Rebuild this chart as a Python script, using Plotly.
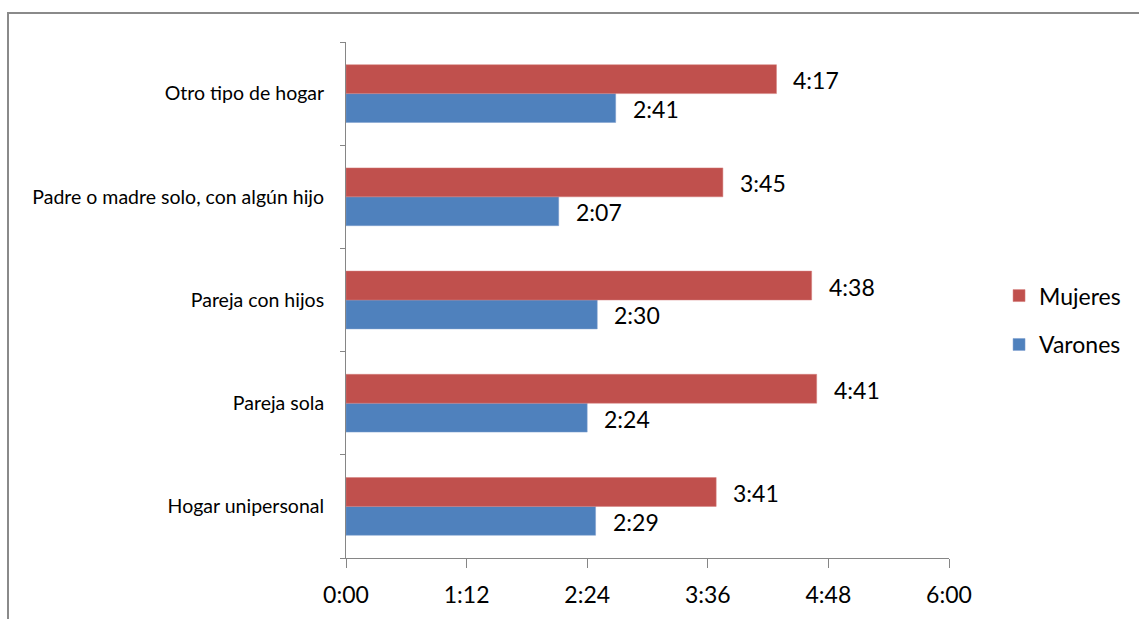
import plotly.graph_objects as go

# Tiempo dedicado (minutos) por tipo de hogar, de abajo hacia arriba
categorias = ["Hogar unipersonal", "Pareja sola", "Pareja con hijos",
              "Padre o madre solo, con algún hijo", "Otro tipo de hogar"]
mujeres = [221, 281, 278, 225, 257]
varones = [149, 144, 150, 127, 161]

tick_minutos = [0, 72, 144, 216, 288, 360]


def hhmm(m):
    return f"{m // 60}:{m % 60:02d}"


ROJO = "#C0504D"
AZUL = "#4F81BD"
FONT = "Lato"

fig = go.Figure()
fig.add_trace(go.Bar(y=categorias, x=varones, orientation="h", name="Varones",
                     marker=dict(color=AZUL, line=dict(color="#7f9fcf", width=0.5)),
                     legendgroup="v", legendrank=2))
fig.add_trace(go.Bar(y=categorias, x=mujeres, orientation="h", name="Mujeres",
                     marker=dict(color=ROJO, line=dict(color="#d47f7d", width=0.5)),
                     legendgroup="m", legendrank=1))

# Etiquetas de valor al final de cada barra
annotations = []
for cat, v, m in zip(categorias, varones, mujeres):
    for val, off in ((m, 0.14), (v, -0.14)):
        annotations.append(dict(x=val, y=cat, yshift=off * 103 - 1, xref="x", yref="y",
                                text=hhmm(val), showarrow=False, xanchor="left",
                                xshift=15, font=dict(family=FONT, size=23, color="#000")))

# Borde exterior del área del gráfico (recortado a derecha y abajo)
x0 = (8 - 346) / 603
y0 = (558 - 13) / 516
fig.add_shape(type="path", xref="paper", yref="paper",
              path=f"M {x0} -0.2 L {x0} {y0} L 1.4 {y0}",
              line=dict(color="#8a8a8a", width=2))

fig.update_layout(
    width=1139, height=619,
    margin=dict(l=346, r=190, t=42, b=61, autoexpand=False),
    paper_bgcolor="white", plot_bgcolor="white",
    barmode="group", bargap=0.44, bargroupgap=0,
    annotations=annotations,
    font=dict(family=FONT, color="#000"),
    showlegend=True,
    legend=dict(x=1.083, y=0.461, xanchor="left", yanchor="middle",
                traceorder="grouped", tracegroupgap=16,
                font=dict(family=FONT, size=23, color="#000"),
                itemwidth=30, bgcolor="rgba(0,0,0,0)"),
    xaxis=dict(range=[0, 360], tickvals=tick_minutos,
               ticktext=[hhmm(t) for t in tick_minutos],
               showgrid=False, zeroline=False, showline=True,
               linecolor="#868686", linewidth=1, automargin=False,
               ticks="outside", ticklen=9, tickcolor="#868686",
               tickfont=dict(family=FONT, size=23, color="#000"),
               ticklabelstandoff=7),
    yaxis=dict(categoryorder="array", categoryarray=categorias,
               showgrid=False, showline=True, linecolor="#868686", linewidth=1,
               automargin=False,
               ticks="outside", ticklen=5, tickcolor="#868686",
               tickson="boundaries",
               tickfont=dict(family=FONT, size=19.5, color="#000"),
               ticklabelstandoff=17),
)

fig.write_html("out.html")
